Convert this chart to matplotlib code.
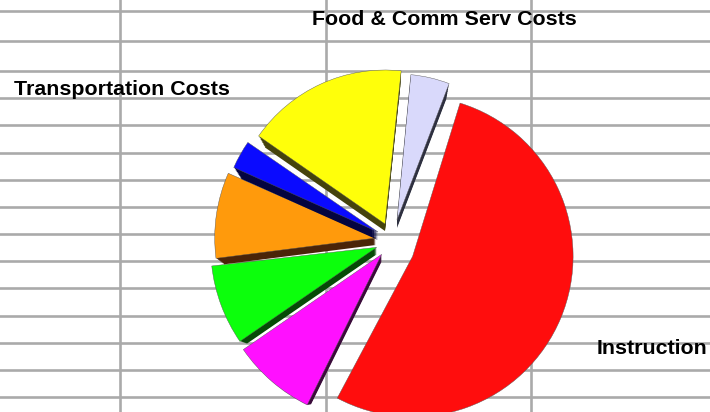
import matplotlib
matplotlib.use("Agg")
import matplotlib.pyplot as plt
from matplotlib.patches import Wedge

# Share of each slice, clockwise from the red one
slice_names = ["Instruction", "Other 1", "Other 2", "Other 3", "Transportation Costs", "Other 4", "Food & Comm Serv Costs"]
slice_values = [53.0, 8.1, 7.8, 8.6, 2.9, 17.0, 4.3]

# Grid positions, pixels from the top left
grid_x = [120, 326, 531]
grid_y = [11, 41, 71, 98, 125, 153, 180, 207, 234, 261, 288, 316, 343, 370, 397]

# Look of the slices
top_colors = ["#ff0d0d", "#ff10ff", "#0cff0c", "#ff9a0c", "#0a0aff", "#ffff0a", "#d9d9fb"]
side_colors = ["#ff0d0d", "#3a0a3a", "#064a06", "#4a2408", "#04043f", "#45430c", "#2e3040"]
apex_x = [412.6, 381.7, 376.7, 375.7, 378.0, 385.0, 397.0]
apex_y = [256.4, 254.3, 247.3, 238.0, 232.0, 224.0, 220.0]
radius = [160.5, 168, 166, 161, 158, 154, 146]
depth = [0, 7, 7, 7, 8, 7, 8]
angle_nudge = [0, 1.7, 1.7, 2.5, 2.1, 1.8, 2.4]
start_angle = 72.8
H = 412

fig = plt.figure(figsize=(7.1, 4.12), dpi=100)
ax = fig.add_axes([0, 0, 1, 1])
ax.set_xlim(0, 710)
ax.set_ylim(0, H)
for s in ax.spines.values():
    s.set_visible(False)
ax.set_xticks(grid_x)
ax.set_yticks([H - y for y in grid_y])
ax.tick_params(length=0, labelbottom=False, labelleft=False)
ax.grid(True, color="#aaaaaa", linewidth=1.9)
ax.set_axisbelow(True)

angle = start_angle
for i, value in enumerate(slice_values):
    sweep = value * 3.6
    t2 = angle + angle_nudge[i]
    t1 = t2 - sweep
    cx = apex_x[i]
    cy = H - apex_y[i]
    # side of the slice, stacked copies going down and shrinking
    for step in range(depth[i], 0, -1):
        r = radius[i] * (1 - 0.05 * step / depth[i])
        ax.add_patch(Wedge((cx, cy - step), r, t1, t2, facecolor=side_colors[i],
                           edgecolor="none", zorder=3 + i))
    ax.add_patch(Wedge((cx, cy), radius[i], t1, t2, facecolor=top_colors[i],
                       edgecolor="#555555", linewidth=0.3, zorder=3 + i))
    angle -= sweep

label_style = dict(family="Liberation Sans", fontweight="bold", fontsize=15.4,
                   color="black", va="center", ha="left", zorder=20)
ax.text(14, H - 89, "Transportation Costs", **label_style)
ax.text(312, H - 19, "Food & Comm Serv Costs", **label_style)
ax.text(597, H - 349, "Instruction", **label_style)

fig.savefig("out.png", dpi=100)
plt.close(fig)
